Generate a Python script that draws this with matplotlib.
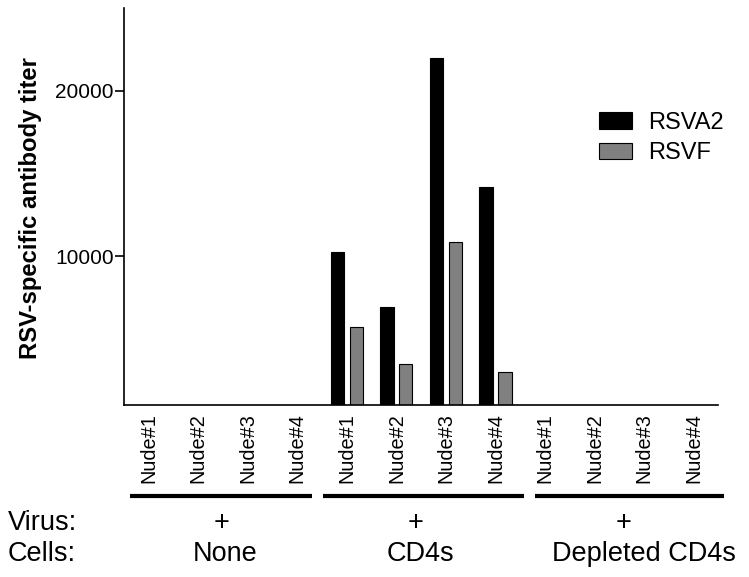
import matplotlib
matplotlib.use("Agg")
import matplotlib.pyplot as plt
import numpy as np
from matplotlib.lines import Line2D
from matplotlib.patches import Patch

plt.rcParams['font.family'] = ['Liberation Sans', 'DejaVu Sans']

# ---- data ----
mice = ["Nude#1", "Nude#2", "Nude#3", "Nude#4"] * 3
rsva2 = [0, 0, 0, 0, 10250, 6900, 22000, 14200, 0, 0, 0, 0]
rsvf = [0, 0, 0, 0, 5700, 3500, 10850, 3000, 0, 0, 0, 0]
series_names = ["RSVA2", "RSVF"]
virus_row = ["+", "+", "+"]
cells_row = ["None", "CD4s", "Depleted CD4s"]
yticks = [10000, 20000]
ylabel = "RSV-specific antibody titer"

W, H = 749, 577
fig = plt.figure(figsize=(W / 100, H / 100), dpi=100)
ax = fig.add_axes([124 / W, 1 - 405 / H, (718.3 - 124) / W, (405 - 8.3) / H])

x = np.arange(len(mice))
bw = 0.27
off = 0.19
ymin = 1000
ax.bar(x - off, np.array(rsva2) - ymin, bw, bottom=ymin, color="black",
       edgecolor="black", linewidth=0.8)
ax.bar(x + off, np.array(rsvf) - ymin, bw, bottom=ymin, color="#808080",
       edgecolor="black", linewidth=0.8)

ax.set_xlim(-0.5, len(mice) - 0.5)
ax.set_ylim(ymin, 25000)
ax.set_yticks(yticks)
ax.set_yticklabels([str(v) for v in yticks], fontsize=15)
ax.set_xticks(x)
ax.set_xticklabels(mice, rotation=90, fontsize=14.3, va="top")
ax.tick_params(axis="x", length=0, pad=6)
ax.tick_params(axis="y", length=6.5, width=1.2, pad=1)
for s in ["top", "right"]:
    ax.spines[s].set_visible(False)
for s in ["left", "bottom"]:
    ax.spines[s].set_linewidth(1.2)

fig.text(31 / W, 1 - 208 / H, ylabel, rotation=90, ha="center", va="center",
         fontsize=17.2, fontweight="bold")

# legend
handles = [Patch(facecolor="black", edgecolor="black", linewidth=0.8),
           Patch(facecolor="#808080", edgecolor="black", linewidth=0.8)]
ax.legend(handles, series_names, loc="upper left",
          bbox_to_anchor=(599 / W, 1 - 112 / H), bbox_transform=fig.transFigure,
          frameon=False, fontsize=17, handlelength=1.4, handleheight=0.72,
          handletextpad=0.7, labelspacing=0.35, borderpad=0, borderaxespad=0)

# group lines under tick labels
line_spans = [(130, 311.7), (322.7, 524), (535, 724)]
for x0, x1 in line_spans:
    fig.add_artist(Line2D([x0 / W, x1 / W], [1 - 495.7 / H] * 2, color="black",
                          linewidth=3.0, solid_capstyle="butt",
                          transform=fig.transFigure))

fs_row = 19.5
fig.text(8 / W, 1 - 523 / H, "Virus:", ha="left", va="center", fontsize=fs_row)
fig.text(8 / W, 1 - 554 / H, "Cells:", ha="left", va="center", fontsize=fs_row)
plus_x = [221.7, 416, 624]
cells_x = [225, 420, 644]
for px, t in zip(plus_x, virus_row):
    fig.text(px / W, 1 - 523 / H, t, ha="center", va="center", fontsize=fs_row)
for cx, t in zip(cells_x, cells_row):
    fig.text(cx / W, 1 - 554 / H, t, ha="center", va="center", fontsize=fs_row)

fig.savefig("out.png", dpi=100)
